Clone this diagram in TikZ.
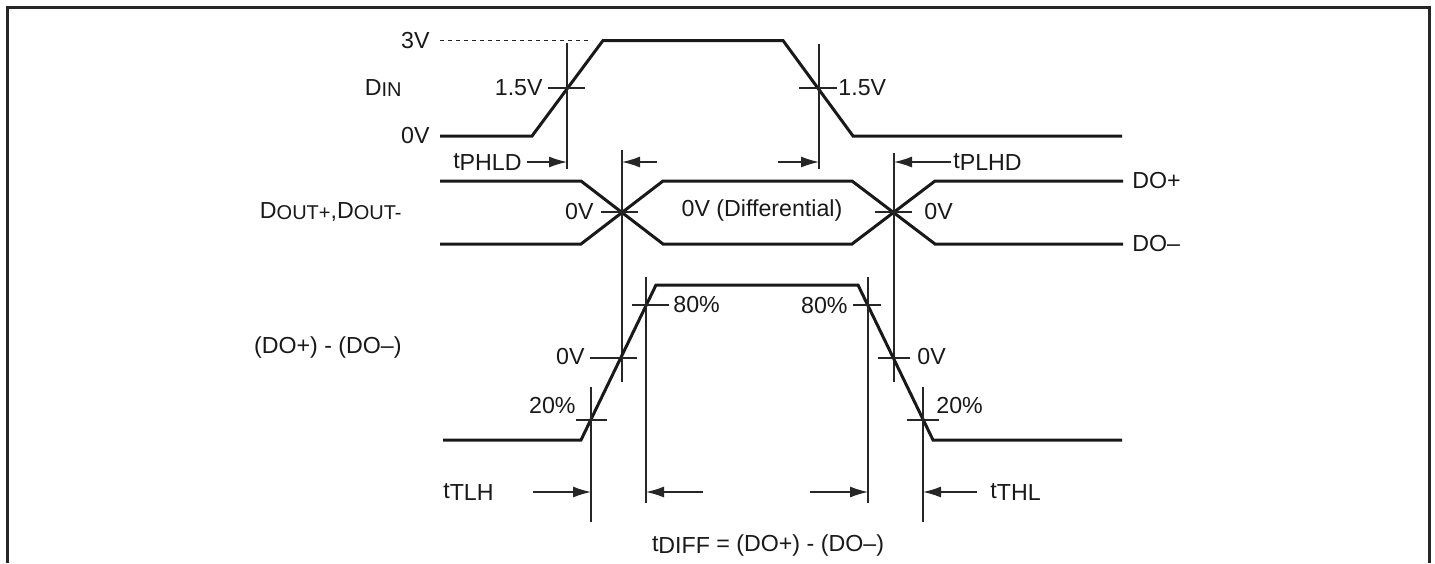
\documentclass[tikz,border=0pt]{standalone}
\usepackage{fontspec}
\setmainfont{Liberation Sans}
\usetikzlibrary{arrows.meta}
\newcommand{\lo}[1]{\raisebox{-1.2pt}{#1}}
\newcommand{\sm}[1]{\raisebox{-0.4pt}{\fontsize{10}{11}\selectfont #1}}
\tikzset{
  frame/.style={line width=1.5pt, draw=black!85},
  wave/.style={line width=1.5pt, draw=black!90, line join=miter},
  guide/.style={line width=0.65pt, draw=black!85},
  reflevel/.style={guide, dash pattern=on 2pt off 2pt},
  tarr/.style={guide, -{Latex[length=9pt,width=5.5pt]}},
  lbl/.style={inner sep=1pt}
}
\begin{document}
\begin{tikzpicture}[x=0.5pt, y=-0.5pt, font=\fontsize{11.6}{13}\selectfont, text=black!90]
			%%%%% START %%%%%
			\useasboundingbox (0,0) rectangle (1435,563);
			\draw[frame] (7,563) -- (7,7) -- (1429,7) -- (1429,563);
			
			% D_IN
			\draw[reflevel] (440,40.5) -- (592,40.5);
			\draw[wave] (440,136) -- (532,136) -- (603,40.5) -- (783,40.5) -- (853,136) -- (1122,136);
			\draw[guide] (567,43) -- (567,169);
			\draw[guide] (548,88) -- (585,88);
			\draw[guide] (819,44) -- (819,169);
			\draw[guide] (799,88) -- (837,88);
			\node[lbl, anchor=east] (din3v) at (432,41) {3V};
			\node[lbl, anchor=east] (din0v) at (432,136) {0V};
			\node[lbl, anchor=east] (din) at (404,88) {D\sm{IN}};
			\node[lbl, anchor=east] (dinrise) at (545,88) {1.5V};
			\node[lbl, anchor=west] (dinfall) at (836,88) {1.5V};
			
			% propagation delays
			\node[lbl, anchor=east] (tphld) at (524,162) {t\lo{PHLD}};
			\node[lbl, anchor=west] (tplhd) at (951,162) {t\lo{PLHD}};
			\draw[tarr] (tphld.east) ++(3,0) -- (567,162);
			\draw[tarr] (657,162) -- (622,162);
			\draw[tarr] (778,162) -- (819,162);
			\draw[tarr] (tplhd.west) -- (894,162);
			
			% D_OUT+ / D_OUT-
			\draw[wave] (440,181) -- (581,181) -- (663,244) -- (852,244) -- (935,181) -- (1123,181);
			\draw[wave] (440,244) -- (581,244) -- (663,181) -- (852,181) -- (935,244) -- (1123,244);
			\draw[guide] (622,150) -- (622,382);
			\draw[guide] (894,153) -- (894,382);
			\draw[guide] (601,212) -- (638,212);
			\draw[guide] (875,212) -- (912,212);
			\node[lbl, anchor=east] (dout) at (404,212) {D\sm{OUT+},D\sm{OUT-}};
			\node[lbl, anchor=east] (xl0v) at (596,212) {0V};
			\node[lbl, anchor=west] (xr0v) at (922,212) {0V};
			\node[lbl] (diff0v) at (762,210) {0V (Differential)};
			\node[lbl, anchor=west] (dop) at (1130,181) {DO+};
			\node[lbl, anchor=west] (dom) at (1130,244) {DO--};
			
			% (DO+) - (DO-)
			\draw[wave] (443,440) -- (581,440) -- (656,285) -- (858,285) -- (933,440) -- (1122,440);
			\draw[guide] (591,387) -- (591,522);
			\draw[guide] (646,277) -- (646,503);
			\draw[guide] (868,277) -- (868,503);
			\draw[guide] (923,387) -- (923,522);
			\draw[guide] (632,305) -- (669,305);
			\draw[guide] (590,358) -- (637,358);
			\draw[guide] (576,420) -- (607,420);
			\draw[guide] (853,305) -- (881,305);
			\draw[guide] (878,358) -- (910,358);
			\draw[guide] (907,420) -- (939,420);
			\node[lbl, anchor=east] (dodiff) at (404,347) {(DO+) - (DO--)};
			\node[lbl, anchor=west] (r80) at (671,305) {80\%};
			\node[lbl, anchor=east] (r0v) at (587,357) {0V};
			\node[lbl, anchor=east] (r20) at (578,406) {20\%};
			\node[lbl, anchor=east] (f80) at (850,306) {80\%};
			\node[lbl, anchor=west] (f0v) at (915,357) {0V};
			\node[lbl, anchor=west] (f20) at (934,406) {20\%};
			
			% transition times
			\node[lbl, anchor=east] (ttlh) at (496,492) {t\lo{TLH}};
			\node[lbl, anchor=west] (tthl) at (988,492) {t\lo{THL}};
			\draw[tarr] (533,492) -- (591,492);
			\draw[tarr] (703,492) -- (646,492);
			\draw[tarr] (810,492) -- (868,492);
			\draw[tarr] (977,492) -- (923,492);
			\node[lbl] (tdiff) at (768,545) {t\lo{DIFF} = (DO+) - (DO--)};
			
			%%%%% END %%%%%
\end{tikzpicture}
\end{document}
